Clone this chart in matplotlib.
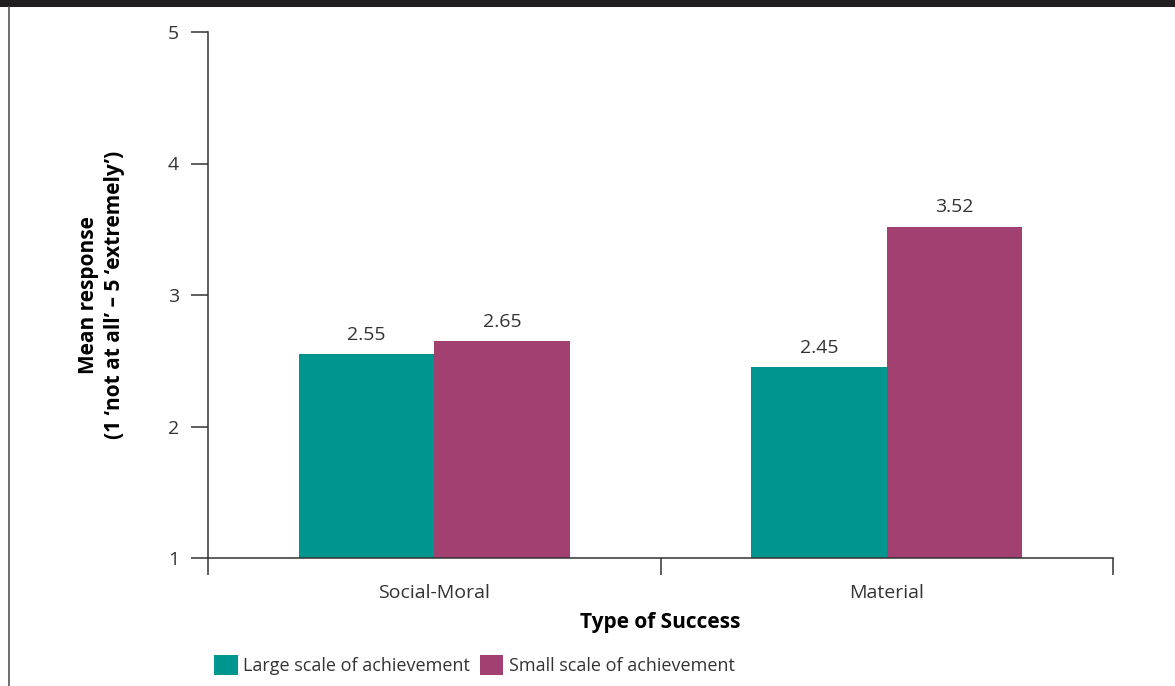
import matplotlib.pyplot as plt
from matplotlib.patches import Rectangle, Patch
from matplotlib.lines import Line2D
import numpy as np

plt.rcParams['font.family'] = ['Open Sans', 'DejaVu Sans']

categories = ['Social-Moral', 'Material']
series_names = ['Large scale of achievement', 'Small scale of achievement']
large_scale = [2.55, 2.45]
small_scale = [2.65, 3.52]
colors = ['#009690', '#A24072']
text_color = '#333333'

W, H = 1175, 686
fig = plt.figure(figsize=(W / 100, H / 100), dpi=100)

# frame decoration: dark band on top and thin line on the left
fig.add_artist(Rectangle((0, 1 - 7 / H), 1, 7 / H, transform=fig.transFigure,
                         facecolor='#231F20', edgecolor='none'))
fig.add_artist(Line2D([8.5 / W, 8.5 / W], [0, 1 - 7 / H], transform=fig.transFigure,
                      color='#555555', linewidth=1.2))

ax = fig.add_axes([208 / W, 1 - 558 / H, (1113 - 208) / W, (558 - 32) / H])

x = np.arange(len(categories)) + 0.5
width = 0.3
for vals, off, col in [(large_scale, -width / 2, colors[0]), (small_scale, width / 2, colors[1])]:
    ax.bar(x + off, np.array(vals) - 1, width, bottom=1, color=col)
    for xi, v in zip(x + off, vals):
        ax.annotate(f'{v:.2f}', (xi, v), xytext=(0, 7.5), textcoords='offset points',
                    ha='center', va='bottom', fontsize=14, color=text_color)

ax.set_xlim(0, 2)
ax.set_ylim(1, 5)
ax.set_yticks([1, 2, 3, 4, 5])
ax.set_xticks([0, 1, 2])
ax.set_xticklabels([])
ax.set_xticks(x, minor=True)
ax.set_xticklabels(categories, minor=True)
ax.tick_params(axis='x', which='minor', length=0, pad=19, labelsize=14, labelcolor=text_color)
ax.tick_params(axis='both', which='major', direction='out', length=12, width=1.1,
               color='#333333', labelsize=14, labelcolor=text_color)
ax.tick_params(axis='y', pad=9)

for s in ['top', 'right']:
    ax.spines[s].set_visible(False)
for s in ['left', 'bottom']:
    ax.spines[s].set_linewidth(1.1)
    ax.spines[s].set_color('#333333')

ax.set_xlabel('Type of Success', fontsize=15, fontweight='bold', labelpad=7)
ax.set_ylabel("Mean response\n(1 \u2018not at all\u2019 \u2013 5 \u2018extremely\u2019)",
              fontsize=15, fontweight='bold', labelpad=31, linespacing=1.3)

handles = [Patch(facecolor=c, edgecolor='none') for c in colors]
fig.legend(handles, series_names, loc='lower left', bbox_to_anchor=(198 / W, -0.008),
           ncol=2, frameon=False, fontsize=13, handlelength=1.3, handleheight=1.3,
           handletextpad=0.3, columnspacing=0.55, labelcolor=text_color)

fig.savefig('out.png', dpi=100)
